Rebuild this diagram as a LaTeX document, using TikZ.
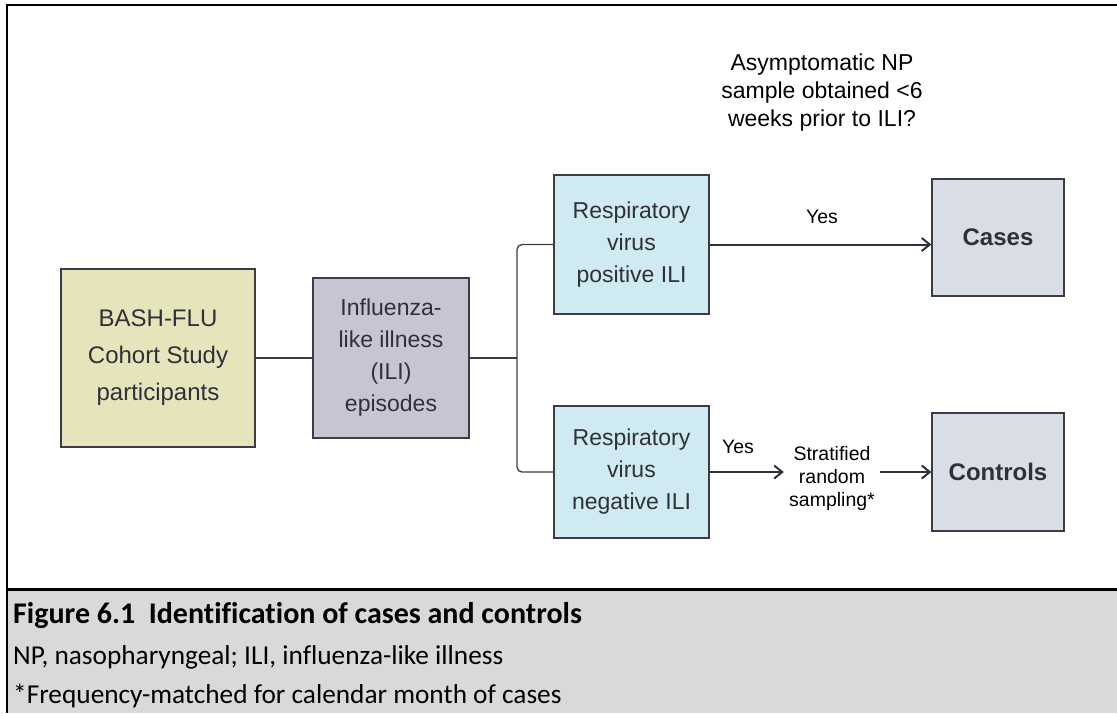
\documentclass[tikz,border=0pt]{standalone}
\usepackage{fontspec}
\setmainfont{Liberation Sans}
\newfontfamily\capfont[Ligatures=NoCommon]{Carlito}
\usetikzlibrary{arrows.meta}
\definecolor{txt}{HTML}{30303A}
\definecolor{edge}{HTML}{3C3C46}
\definecolor{bashfill}{HTML}{E6E4BA}
\definecolor{ilifill}{HTML}{C6C6D3}
\definecolor{respfill}{HTML}{CFEAF0}
\definecolor{outfill}{HTML}{D9DDE5}
\definecolor{capgray}{HTML}{D9D9D9}
\tikzset{
  box/.style={draw=edge, line width=1.3pt, text=txt, align=center, inner sep=0pt, rectangle},
  boxtext/.style={font=\fontsize{23}{32}\selectfont},
  link/.style={draw=edge, line width=1.3pt},
  arr/.style={draw=txt, line width=2pt, -{Straight Barb[length=8pt,width=13pt,line width=2pt]}},
  note/.style={text=black, align=center, inner sep=0pt},
  captext/.style={anchor=base west, inner sep=0pt, text=black, font=\capfont\fontsize{27.3}{30}\selectfont},
}
\begin{document}
\begin{tikzpicture}[x=1pt,y=-1pt]
\useasboundingbox (0,0) rectangle (1117,713);
% caption background and frame
\fill[capgray] (7,589.5) rectangle (1117,713);
\draw[line width=2.2pt] (1117,5) -- (7,5) -- (7,713);
\draw[line width=2.2pt] (7,589.5) -- (1117,589.5);
% nodes
\node[box, boxtext, fill=bashfill, minimum width=194pt, minimum height=178pt, font=\fontsize{24}{37}\selectfont] (bash) at (158,358) {BASH-FLU\\Cohort Study\\participants};
\node[box, boxtext, fill=ilifill, minimum width=156pt, minimum height=160pt] (ili) at (391,358) {Influenza-\\like illness\\(ILI)\\episodes};
\node[box, boxtext, fill=respfill, minimum width=155pt, minimum height=139pt] (pos) at (631.5,244.5) {Respiratory\\virus\\positive ILI};
\node[box, boxtext, fill=respfill, minimum width=155pt, minimum height=132pt] (neg) at (631.5,472) {Respiratory\\virus\\negative ILI};
\node[box, fill=outfill, minimum width=132pt, minimum height=117pt, font=\fontsize{24}{30}\selectfont\bfseries] (cases) at (998,237.5) {Cases};
\node[box, fill=outfill, minimum width=132pt, minimum height=118pt, font=\fontsize{24}{30}\selectfont\bfseries] (controls) at (998,472) {Controls};
\node[note, font=\fontsize{19.5}{23}\selectfont, minimum width=96pt] (strat) at (832,478) {Stratified\\random\\sampling*};
\node[note, font=\fontsize{23}{28}\selectfont] (question) at (822,93) {Asymptomatic NP\\sample obtained <6\\weeks prior to ILI?};
\node[note, font=\fontsize{19.5}{23}\selectfont] (yes1) at (822,217) {Yes};
\node[note, font=\fontsize{19.5}{23}\selectfont] (yes2) at (738,447) {Yes};
% connectors
\coordinate (br) at (517,358);
\draw[link] (bash.east) -- (ili.west);
\draw[link] (ili.east) -- (br);
\draw[link, rounded corners=5pt] (pos.west) -| (br) |- (neg.west);
\draw[arr] (pos.east) -- (pos.east -| cases.west);
\draw[arr] (neg.east) -- (neg.east -| strat.west);
\draw[arr] (neg.east -| strat.east) -- (neg.east -| controls.west);
% caption
\node[captext, font=\capfont\bfseries\fontsize{30}{32}\selectfont] (cap1) at (13,623) {Figure 6.1\ \ Identification of cases and controls};
\node[captext] (cap2) at (13,664) {NP, nasopharyngeal; ILI, influenza-like illness};
\node[captext] (cap3) at (13,703) {*Frequency-matched for calendar month of cases};
\end{tikzpicture}
\end{document}
